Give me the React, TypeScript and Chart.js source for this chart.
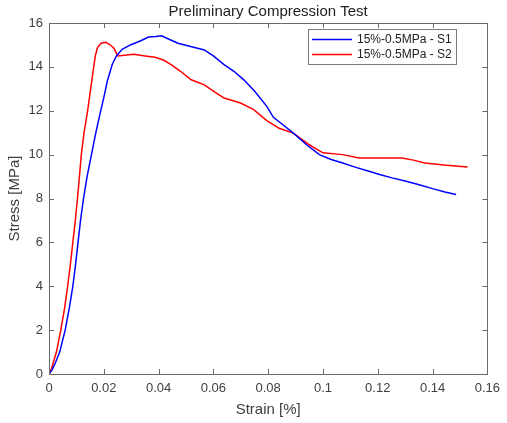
import React, { useEffect, useRef } from "react";
import { Chart, registerables } from "chart.js";

Chart.register(...registerables);

const TITLE = "Preliminary Compression Test";
const X_LABEL = "Strain [%]";
const Y_LABEL = "Stress [MPa]";
const LABEL_S1 = "15%-0.5MPa - S1";
const LABEL_S2 = "15%-0.5MPa - S2";

const strainS1 = [0, 0.0012, 0.0023, 0.0039, 0.0059, 0.0074, 0.0087, 0.0097, 0.0106, 0.0115, 0.0126, 0.0139, 0.0155, 0.0171, 0.0186, 0.02, 0.0213, 0.0231, 0.0246, 0.0267, 0.0297, 0.0333, 0.0363, 0.039, 0.0411, 0.044, 0.0471, 0.051, 0.0567, 0.06, 0.0639, 0.0675, 0.0711, 0.075, 0.0795, 0.0819, 0.0855, 0.0892, 0.094, 0.0987, 0.103, 0.1072, 0.112, 0.1168, 0.121, 0.1252, 0.13, 0.1348, 0.14, 0.1445, 0.1486];
const stressS1 = [0, 0.2, 0.5, 1.0, 2.0, 3.0, 4.0, 5.0, 6.0, 7.0, 8.0, 9.0, 10.0, 11.0, 11.85, 12.6, 13.36, 14.12, 14.5, 14.8, 15.0, 15.18, 15.36, 15.38, 15.42, 15.25, 15.08, 14.95, 14.77, 14.5, 14.1, 13.8, 13.41, 12.9, 12.2, 11.7, 11.35, 10.98, 10.45, 10.0, 9.78, 9.62, 9.42, 9.24, 9.08, 8.94, 8.8, 8.64, 8.45, 8.3, 8.18];

const strainS2 = [0, 0.0008, 0.0015, 0.0027, 0.0043, 0.0057, 0.0068, 0.0078, 0.0087, 0.0096, 0.0104, 0.0111, 0.0118, 0.0128, 0.0141, 0.0152, 0.0161, 0.0169, 0.0177, 0.019, 0.0207, 0.0222, 0.0237, 0.0251, 0.0309, 0.0351, 0.0387, 0.042, 0.0447, 0.048, 0.0519, 0.0567, 0.06, 0.0639, 0.0699, 0.0747, 0.0795, 0.084, 0.0892, 0.095, 0.1, 0.1072, 0.1132, 0.1216, 0.1288, 0.133, 0.1372, 0.145, 0.1528];
const stressS2 = [0, 0.2, 0.5, 1.0, 2.0, 3.0, 4.0, 5.0, 6.0, 7.0, 8.0, 9.0, 10.0, 11.0, 12.0, 13.0, 13.8, 14.5, 14.88, 15.08, 15.12, 15.02, 14.85, 14.5, 14.58, 14.5, 14.44, 14.3, 14.09, 13.8, 13.41, 13.18, 12.9, 12.58, 12.35, 12.05, 11.55, 11.2, 10.98, 10.45, 10.08, 10.0, 9.85, 9.85, 9.85, 9.75, 9.62, 9.52, 9.44];

const X_MIN = 0;
const X_MAX = 0.16;
const X_STEP = 0.02;
const Y_MIN = 0;
const Y_MAX = 16;
const Y_STEP = 2;

const FONT = "'Liberation Sans', Arial, Helvetica, sans-serif";
const TEXT_COLOR = "#404040";
const AXIS_COLOR = "#6a6a6a";

const toPoints = (xs: number[], ys: number[]) => xs.map((x, i) => ({ x, y: ys[i] }));

const decorPlugin = {
  id: "decor",
  afterDraw(chart: any) {
    const { ctx, chartArea } = chart;
    const { left, right, top, bottom } = chartArea;
    const xs = chart.scales.x;
    const ys = chart.scales.y;
    ctx.save();
    ctx.strokeStyle = AXIS_COLOR;
    ctx.lineWidth = 1;
    ctx.strokeRect(Math.round(left) + 0.5, Math.round(top) + 0.5, Math.round(right - left), Math.round(bottom - top));
    const tl = 5;
    ctx.beginPath();
    xs.ticks.forEach((t: any) => {
      const px = Math.round(xs.getPixelForValue(t.value)) + 0.5;
      ctx.moveTo(px, bottom);
      ctx.lineTo(px, bottom - tl);
      ctx.moveTo(px, top);
      ctx.lineTo(px, top + tl);
    });
    ys.ticks.forEach((t: any) => {
      const py = Math.round(ys.getPixelForValue(t.value)) + 0.5;
      ctx.moveTo(left, py);
      ctx.lineTo(left + tl, py);
      ctx.moveTo(right, py);
      ctx.lineTo(right - tl, py);
    });
    ctx.stroke();

    ctx.fillStyle = "#222";
    ctx.font = `15px ${FONT}`;
    ctx.textAlign = "center";
    ctx.textBaseline = "middle";
    ctx.fillText(TITLE, (left + right) / 2, 12);

    const bx = 308.5, by = 29.5, bw = 148, bh = 35;
    ctx.fillStyle = "#fff";
    ctx.fillRect(bx, by, bw, bh);
    ctx.strokeStyle = "#7a7a7a";
    ctx.strokeRect(bx, by, bw, bh);
    ctx.font = `12px ${FONT}`;
    ctx.textAlign = "left";
    ctx.textBaseline = "middle";
    const rows = [39.5, 54.5];
    chart.data.datasets.forEach((ds: any, i: number) => {
      const y = rows[i];
      ctx.strokeStyle = ds.borderColor;
      ctx.lineWidth = 1.5;
      ctx.beginPath();
      ctx.moveTo(312, y);
      ctx.lineTo(352, y);
      ctx.stroke();
      ctx.fillStyle = "#222";
      ctx.fillText(ds.label, 357, y + 0.5);
    });
    ctx.restore();
  },
};

export default function App() {
  const ref = useRef<HTMLCanvasElement | null>(null);
  useEffect(() => {
    if (!ref.current) return;
    const chart = new Chart(ref.current, {
      type: "scatter",
      data: {
        datasets: [
          {
            label: LABEL_S1,
            data: toPoints(strainS1, stressS1),
            showLine: true,
            borderColor: "#0000ff",
            backgroundColor: "#0000ff",
            borderWidth: 1.5,
            pointRadius: 0,
            tension: 0,
          },
          {
            label: LABEL_S2,
            data: toPoints(strainS2, stressS2),
            showLine: true,
            borderColor: "#ff0000",
            backgroundColor: "#ff0000",
            borderWidth: 1.5,
            pointRadius: 0,
            tension: 0,
          },
        ],
      },
      options: {
        responsive: false,
        animation: false,
        devicePixelRatio: 1,
        layout: { padding: { left: 0, right: 14, top: 23, bottom: 0 } },
        plugins: {
          legend: { display: false },
          title: { display: false },
          tooltip: { enabled: false },
        },
        scales: {
          x: {
            type: "linear",
            min: X_MIN,
            max: X_MAX,
            grid: { display: false, drawTicks: false },
            border: { display: false },
            ticks: {
              stepSize: X_STEP,
              padding: 7,
              color: TEXT_COLOR,
              font: { family: FONT, size: 13 },
              maxRotation: 0,
              callback: (v: any) => String(Number(Number(v).toFixed(2))),
            },
            title: {
              display: true,
              text: X_LABEL,
              color: TEXT_COLOR,
              font: { family: FONT, size: 15 },
              padding: { top: 0, bottom: 4 },
            },
            afterFit: (s: any) => {
              s.height = 49;
            },
          },
          y: {
            type: "linear",
            min: Y_MIN,
            max: Y_MAX,
            grid: { display: false, drawTicks: false },
            border: { display: false },
            ticks: {
              stepSize: Y_STEP,
              padding: 6,
              color: TEXT_COLOR,
              font: { family: FONT, size: 13 },
            },
            title: {
              display: true,
              text: Y_LABEL,
              color: TEXT_COLOR,
              font: { family: FONT, size: 15 },
              padding: { top: 6, bottom: 0 },
            },
            afterFit: (s: any) => {
              s.width = 49;
            },
          },
        },
      },
      plugins: [decorPlugin],
    });
    return () => chart.destroy();
  }, []);
  return (
    <div style={{ position: "absolute", left: 0, top: 0, width: 507, height: 423, background: "#fff" }}>
      <canvas ref={ref} width={507} height={423} style={{ width: 507, height: 423, display: "block" }} />
    </div>
  );
}
